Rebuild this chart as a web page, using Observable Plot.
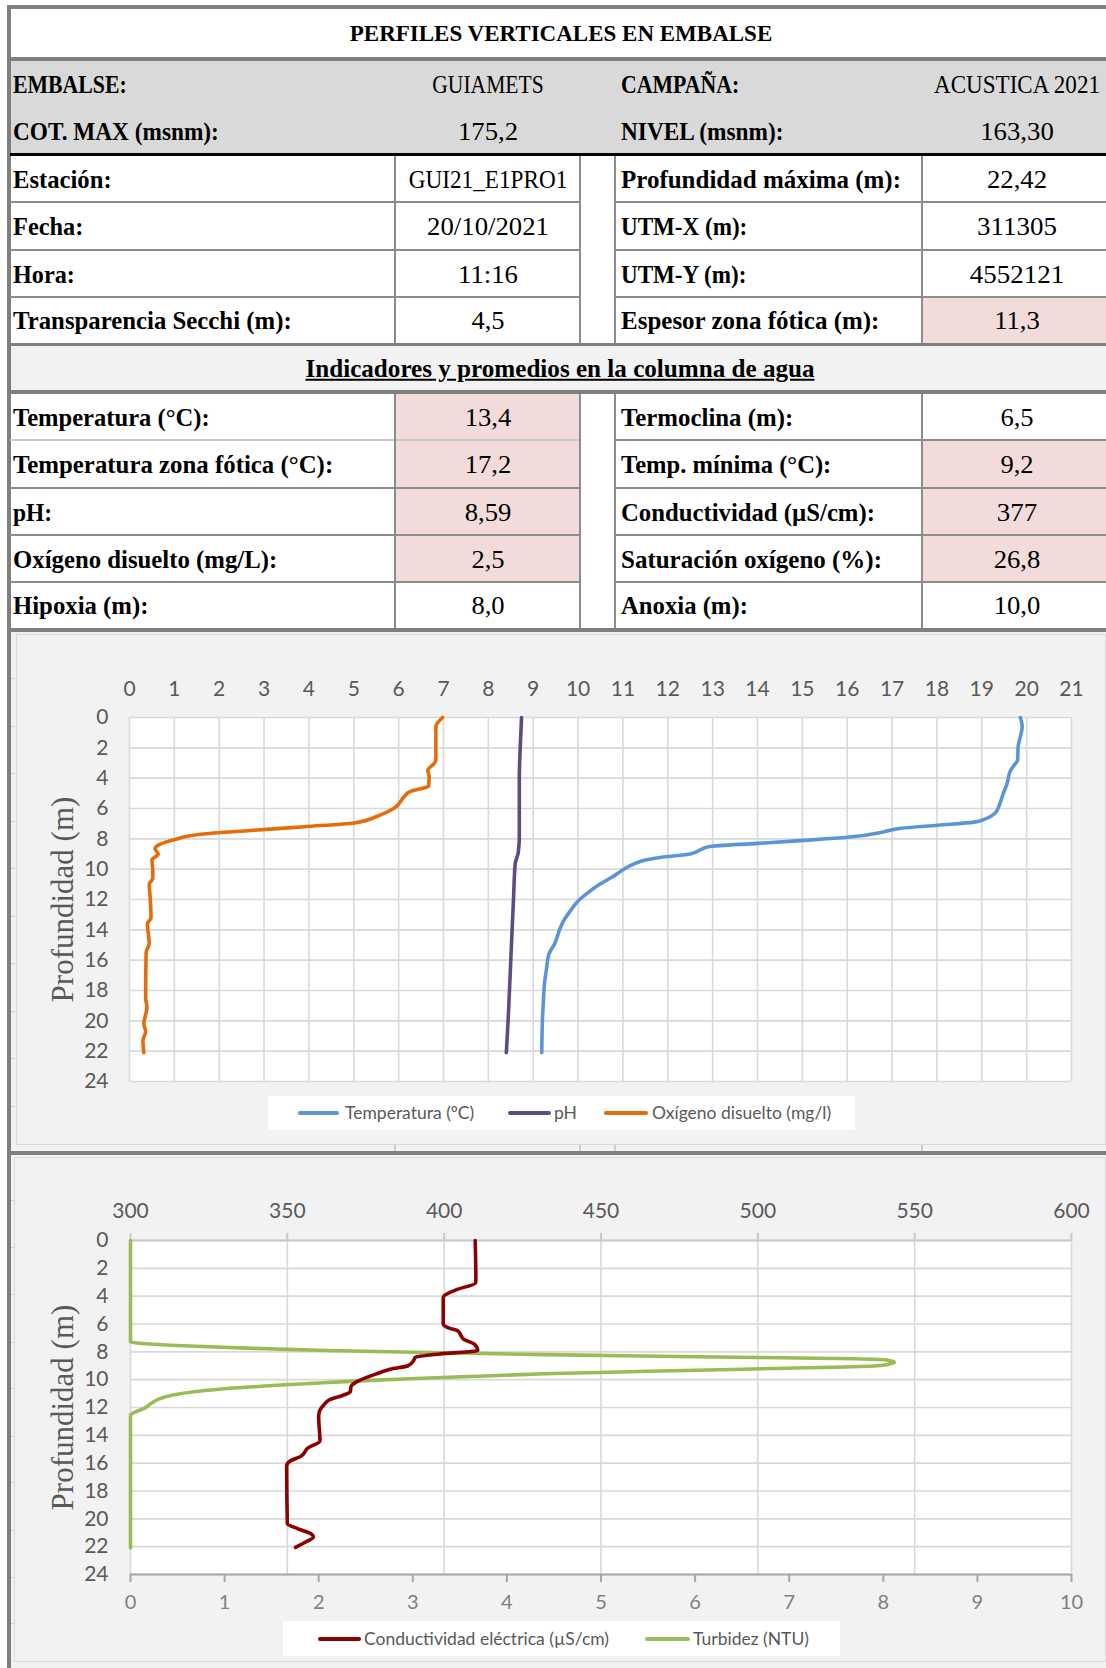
<!DOCTYPE html>
<html><head><meta charset="utf-8">
<script src="https://cdn.jsdelivr.net/npm/d3@7"></script>
<script src="https://cdn.jsdelivr.net/npm/@observablehq/plot@0.6"></script>
<style>
html,body{margin:0;padding:0;background:#fff;}
body{width:1106px;height:1668px;overflow:hidden;position:relative;font-family:"Liberation Serif",serif;}
.abs{position:absolute;box-sizing:border-box;}
.t{position:absolute;white-space:nowrap;line-height:1;}
.leg{position:absolute;background:#fff;font-family:Lato,sans-serif;font-size:17.5px;color:#595959;}
.sw{position:absolute;height:4px;border-radius:2px;}
.chart{position:absolute;left:0;}
</style></head><body>
<script>
// ---------- table content ----------
const title = "PERFILES VERTICALES EN EMBALSE";
const headerLeft = [["EMBALSE:", "GUIAMETS"], ["COT. MAX (msnm):", "175,2"]];
const headerRight = [["CAMPAÑA:", "ACUSTICA 2021"], ["NIVEL (msnm):", "163,30"]];
const stationLeft = [["Estación:", "GUI21_E1PRO1"], ["Fecha:", "20/10/2021"], ["Hora:", "11:16"], ["Transparencia Secchi (m):", "4,5"]];
const stationRight = [["Profundidad máxima (m):", "22,42"], ["UTM-X (m):", "311305"], ["UTM-Y (m):", "4552121"], ["Espesor zona fótica (m):", "11,3"]];
const stationRightPink = [false, false, false, true];
const indicTitle = "Indicadores y promedios en la columna de agua";
const indicLeft = [["Temperatura (°C):", "13,4"], ["Temperatura zona fótica (°C):", "17,2"], ["pH:", "8,59"], ["Oxígeno disuelto (mg/L):", "2,5"], ["Hipoxia (m):", "8,0"]];
const indicLeftPink = [true, true, true, true, false];
const indicRight = [["Termoclina (m):", "6,5"], ["Temp. mínima (°C):", "9,2"], ["Conductividad (µS/cm):", "377"], ["Saturación oxígeno (%):", "26,8"], ["Anoxia (m):", "10,0"]];
const indicRightPink = [false, true, true, true, false];

// ---------- chart 1 data: [profundidad (m), valor] ----------
const temperatura = [[0,19.86],[0.6,19.9],[1.5,19.84],[1.9,19.81],[2.8,19.8],[3.15,19.72],[3.5,19.64],[4.4,19.56],[5.0,19.48],[5.7,19.4],[6.3,19.3],[6.7,19.07],[6.9,18.83],[7.1,18.02],[7.3,17.2],[7.55,16.8],[7.9,16.0],[8.1,15.04],[8.3,14.0],[8.5,12.94],[8.65,12.78],[9.0,12.5],[9.2,11.9],[9.4,11.5],[9.65,11.25],[10.1,10.97],[10.5,10.77],[11.0,10.48],[11.6,10.2],[12.1,10.0],[12.7,9.84],[13.4,9.68],[13.9,9.6],[14.9,9.48],[15.6,9.35],[16.5,9.3],[17.6,9.25],[18.5,9.23],[19.6,9.21],[22.1,9.19]];
const ph = [[0,8.74],[2,8.71],[4,8.69],[8,8.69],[8.5,8.68],[9.0,8.66],[9.6,8.6],[12,8.56],[16,8.5],[20,8.44],[22.1,8.4]];
const oxigeno = [[0,6.98],[0.6,6.83],[2.8,6.83],[3.0,6.8],[3.5,6.65],[3.9,6.68],[4.5,6.67],[4.9,6.24],[5.2,6.13],[6.0,5.89],[6.45,5.57],[6.95,5.01],[7.2,3.9],[7.45,2.7],[7.7,1.59],[8.1,0.95],[8.5,0.6],[8.65,0.57],[9.0,0.64],[9.4,0.5],[10.1,0.52],[10.6,0.52],[11.0,0.44],[11.85,0.46],[13.2,0.48],[13.6,0.4],[14.9,0.44],[15.5,0.37],[18.5,0.36],[19.1,0.39],[20.2,0.32],[20.7,0.36],[21.3,0.3],[22.1,0.32]];
const ticks1X = d3.range(0, 22);
const ticksDepth = d3.range(0, 25, 2);

// ---------- chart 2 data ----------
const conductividad = [[0,409.9],[2.8,410.1],[3.05,410],[3.5,404.4],[4.0,399.9],[4.15,399.7],[6.0,399.7],[6.3,401.6],[6.5,404.4],[6.8,405.3],[7.1,406.2],[7.45,409.6],[7.9,410.7],[8.15,398.7],[8.4,390.8],[8.65,390.2],[9.0,388.5],[9.25,382.8],[9.6,378.2],[10.1,372.5],[10.5,370.3],[10.85,370.1],[11.1,368],[11.45,363.4],[11.8,361.7],[12.3,360.2],[12.7,360],[14.4,360.4],[14.9,356.6],[15.5,354.3],[15.85,350.9],[16.2,349.8],[20.35,350],[20.7,353.2],[21.1,357.7],[21.3,358.3],[21.7,355.5],[22.05,352.6]];
const turbidez = [[0,0],[7.3,0],[7.45,0.25],[7.6,0.7],[7.75,1.3],[7.9,2.1],[8.05,3.2],[8.2,4.4],[8.35,6.0],[8.5,7.7],[8.6,8.05],[8.75,8.12],[8.9,8.05],[9.02,7.9],[9.2,6.8],[9.4,5.5],[9.58,4.4],[9.75,3.7],[9.9,3.1],[10.05,2.55],[10.2,2.1],[10.4,1.55],[10.6,1.1],[10.85,0.7],[11.1,0.45],[11.4,0.3],[11.7,0.22],[12.05,0.15],[12.3,0.06],[12.55,0],[22.1,0]];
const ticksCond = d3.range(300, 601, 50);
const ticksTurb = d3.range(0, 11);

// ---------- helpers ----------
function rect(x, y, w, h, bg, extra) {
  const d = document.createElement("div");
  d.className = "abs";
  Object.assign(d.style, {left: x + "px", top: y + "px", width: w + "px", height: h + "px", background: bg}, extra || {});
  document.body.appendChild(d);
  return d;
}
// approximate the proportions of the original serif face (narrower capitals, wider digits)
function widthFactor(s) {
  let num = 0, den = 0;
  for (const ch of s) {
    let w, f;
    if (/[A-ZÑÁÉÍÓÚ]/.test(ch)) { w = 0.7; f = 0.88; }
    else if (/[0-9]/.test(ch)) { w = 0.5; f = 1.1; }
    else if (/[a-záéíóúñµ]/.test(ch)) { w = 0.48; f = 1.03; }
    else { w = 0.3; f = 1.03; }
    num += w * f; den += w;
  }
  return den ? num / den : 1;
}
function txt(s, x, y, opt) {
  opt = opt || {};
  const d = document.createElement("div");
  d.className = "t";
  d.textContent = s;
  const center = opt.center;
  const f = opt.noScale ? 1 : widthFactor(s);
  Object.assign(d.style, {
    left: x + "px", top: y + "px",
    fontSize: (opt.size || 24.5) + "px",
    fontWeight: opt.bold ? "bold" : "normal",
    textDecoration: opt.underline ? "underline" : "none",
    transformOrigin: center ? "center center" : "left center",
    transform: (center ? "translate(-50%,-50%)" : "translate(0,-50%)") + " scaleX(" + f.toFixed(3) + ")",
    color: "#000"
  });
  document.body.appendChild(d);
  return d;
}

// ---------- table drawing ----------
const G = "#7f7f7f", LG = "#8c8c8c";
const XL = 10, XR = 1106, C1 = 395, GAP1 = 580, GAP2 = 615, C2 = 922;
const V1 = (C1 + GAP1) / 2, V2 = 1017;
rect(XL, 61, XR - XL, 92, "#d9d9d9");
rect(XL, 346, XR - XL, 44, "#f2f2f2");
rect(XL, 632, XR - XL, 1668 - 632, "#f2f2f2");
const rowTops1 = [155.5, 202, 249.5, 297, 343];
stationRightPink.forEach((p, i) => { if (p) rect(C2, rowTops1[i], XR - C2, rowTops1[i + 1] - rowTops1[i], "#f2dcdb"); });
const rowTops2 = [393.5, 440, 488, 535, 582, 628];
indicLeftPink.forEach((p, i) => { if (p) rect(C1, rowTops2[i], GAP1 - C1, rowTops2[i + 1] - rowTops2[i], "#f2dcdb"); });
indicRightPink.forEach((p, i) => { if (p) rect(C2, rowTops2[i], XR - C2, rowTops2[i + 1] - rowTops2[i], "#f2dcdb"); });
rect(7, 5, 4, 1668 - 5, G);
rect(7, 5, XR - 7, 3.5, G);
rect(XL, 57, XR - XL, 4, G);
rect(XL, 153, XR - XL, 2.5, "#000");
[202, 249.5, 297].forEach(y => { rect(XL, y - 1, GAP1 - XL, 2, LG); rect(GAP2, y - 1, XR - GAP2, 2, LG); });
rect(XL, 342.5, XR - XL, 3.5, G);
rect(XL, 390, XR - XL, 3.5, G);
[440, 488, 535, 582].forEach((y, i) => { rect(XL, y - 1, GAP1 - XL, 2, i === 0 ? "#c8c8c8" : LG); rect(GAP2, y - 1, XR - GAP2, 2, LG); });
rect(XL, 628, XR - XL, 4, G);
[[155.5, 342.5], [393.5, 628]].forEach(([a, b]) => {
  [C1, GAP1, GAP2, C2].forEach(x => rect(x - 1, a, 2, b - a, LG));
});
txt(title, 561, 33, {bold: true, center: true, size: 23, noScale: true});
const hy = [85, 132];
headerLeft.forEach(([l, v], i) => { txt(l, 13, hy[i], {bold: true}); txt(v, V1, hy[i], {center: true}); });
headerRight.forEach(([l, v], i) => { txt(l, GAP2 + 6, hy[i], {bold: true}); txt(v, V2, hy[i], {center: true}); });
const sy = [180, 227, 274.5, 321];
stationLeft.forEach(([l, v], i) => { txt(l, 13, sy[i], {bold: true}); txt(v, V1, sy[i], {center: true}); });
stationRight.forEach(([l, v], i) => { txt(l, GAP2 + 6, sy[i], {bold: true}); txt(v, V2, sy[i], {center: true}); });
txt(indicTitle, 560, 369, {bold: true, underline: true, center: true, size: 24.5});
const iy = [418, 465, 512.5, 559.5, 606];
indicLeft.forEach(([l, v], i) => { txt(l, 13, iy[i], {bold: true}); txt(v, V1, iy[i], {center: true}); });
indicRight.forEach(([l, v], i) => { txt(l, GAP2 + 6, iy[i], {bold: true}); txt(v, V2, iy[i], {center: true}); });

// chart panels
rect(16, 633.5, XR - 16, 1144.5 - 633.5, "#f2f2f2", {border: "1px solid #d9d9d9"});
rect(XL, 1151, XR - XL, 4, G);
rect(14, 1157, XR - 14, 1662 - 1157, "#f2f2f2", {border: "1px solid #d9d9d9"});
// faint sheet lines peeking around the chart panels
[678, 726, 773, 821, 868, 916, 963, 1011, 1058, 1106, 1200, 1247, 1294, 1342, 1388, 1436, 1482, 1530, 1577, 1623].forEach(y => rect(11, y, 4, 1.2, "#cfcfcf"));
[C1, GAP1, GAP2, C2].forEach(x => rect(x - 0.7, 1145, 1.4, 6, "#cfcfcf"));

const gridStyle = {stroke: "#d9d9d9", strokeOpacity: 1, strokeWidth: 1.6};
const lineStyle = {strokeWidth: 3.6, curve: "monotone-y", strokeLinecap: "round", strokeLinejoin: "round"};
const FS = 21;

// ---------- chart 1 ----------
const chart1 = Plot.plot({
  width: 1106, height: 513,
  marginLeft: 129, marginRight: 35, marginTop: 85, marginBottom: 64,
  style: {background: "transparent", fontFamily: "Lato, sans-serif", fontSize: FS + "px", color: "#595959", overflow: "visible"},
  x: {domain: [0, 21]},
  y: {domain: [0, 24], reverse: true},
  marks: [
    Plot.frame({fill: "white", stroke: null}),
    Plot.gridX(ticks1X, gridStyle),
    Plot.gridY(ticksDepth, gridStyle),
    Plot.axisX({anchor: "top", ticks: ticks1X, tickSize: 0, tickPadding: 22, label: null, fontSize: FS}),
    Plot.axisY({ticks: ticksDepth, tickSize: 0, tickPadding: 21, label: null, fontSize: FS}),
    Plot.text(["Profundidad (m)"], {frameAnchor: "left", textAnchor: "middle", lineAnchor: "middle", dx: -66, rotate: -90, fontFamily: "Liberation Serif, serif", fontSize: 31, fill: "#595959"}),
    Plot.line(oxigeno, {x: d => d[1], y: d => d[0], stroke: "#e46c0a", ...lineStyle}),
    Plot.line(ph, {x: d => d[1], y: d => d[0], stroke: "#5e4b82", ...lineStyle}),
    Plot.line(temperatura, {x: d => d[1], y: d => d[0], stroke: "#5b95d9", ...lineStyle})
  ]
});
chart1.classList.add("chart");
chart1.style.top = "632px";
document.body.appendChild(chart1);

// ---------- chart 2 ----------
const turbToCond = t => 300 + t * 30;
const chart2 = Plot.plot({
  width: 1106, height: 513,
  marginLeft: 130, marginRight: 35, marginTop: 85, marginBottom: 94,
  style: {background: "transparent", fontFamily: "Lato, sans-serif", fontSize: FS + "px", color: "#595959", overflow: "visible"},
  x: {domain: [300, 600]},
  y: {domain: [0, 24], reverse: true},
  marks: [
    Plot.frame({fill: "white", stroke: null}),
    Plot.gridX(ticksCond, gridStyle),
    Plot.gridY(ticksDepth, gridStyle),
    Plot.ruleY([0], {stroke: "#c8c8c8", strokeWidth: 2}),
    Plot.ruleY([24], {stroke: "#a6a6a6", strokeWidth: 2}),
    Plot.axisX({anchor: "top", ticks: ticksCond, tickSize: 8, tickPadding: 15, label: null, stroke: "#c8c8c8", strokeWidth: 2, fill: "#595959", fontSize: FS}),
    Plot.axisX(ticksTurb.map(turbToCond), {anchor: "bottom", tickSize: 8, tickPadding: 12, tickFormat: d => String(Math.round((d - 300) / 30)), label: null, stroke: "#a6a6a6", strokeWidth: 2, fill: "#808080", fontSize: 20}),
    Plot.axisY({ticks: ticksDepth, tickSize: 0, tickPadding: 22, label: null, fontSize: FS}),
    Plot.text(["Profundidad (m)"], {frameAnchor: "left", textAnchor: "middle", lineAnchor: "middle", dx: -67, rotate: -90, fontFamily: "Liberation Serif, serif", fontSize: 31, fill: "#595959"}),
    Plot.line(turbidez, {x: d => turbToCond(d[1]), y: d => d[0], stroke: "#9bbb59", ...lineStyle}),
    Plot.line(conductividad, {x: d => d[1], y: d => d[0], stroke: "#8b0000", ...lineStyle})
  ]
});
chart2.classList.add("chart");
chart2.style.top = "1155px";
document.body.appendChild(chart2);

// ---------- legends ----------
function legend(x, y, w, h, items) {
  const box = document.createElement("div");
  box.className = "leg";
  Object.assign(box.style, {left: x + "px", top: y + "px", width: w + "px", height: h + "px"});
  items.forEach(([label, color, sx, sw, tx]) => {
    const s = document.createElement("div");
    s.className = "sw";
    Object.assign(s.style, {left: (sx - x) + "px", width: sw + "px", top: (h / 2 - 2) + "px", background: color});
    box.appendChild(s);
    const t = document.createElement("div");
    t.className = "t";
    t.textContent = label;
    Object.assign(t.style, {left: (tx - x) + "px", top: (h / 2) + "px", transform: "translate(0,-50%)"});
    box.appendChild(t);
  });
  document.body.appendChild(box);
}
legend(268, 1096, 587, 34, [["Temperatura (ºC)", "#5b95d9", 298, 41, 345], ["pH", "#5e4b82", 508, 43, 554], ["Oxígeno disuelto (mg/l)", "#e46c0a", 604, 44, 652]]);
legend(283, 1621, 557, 35, [["Conductividad eléctrica (µS/cm)", "#8b0000", 318, 43, 364], ["Turbidez (NTU)", "#9bbb59", 645, 45, 693]]);
</script>
</body></html>
